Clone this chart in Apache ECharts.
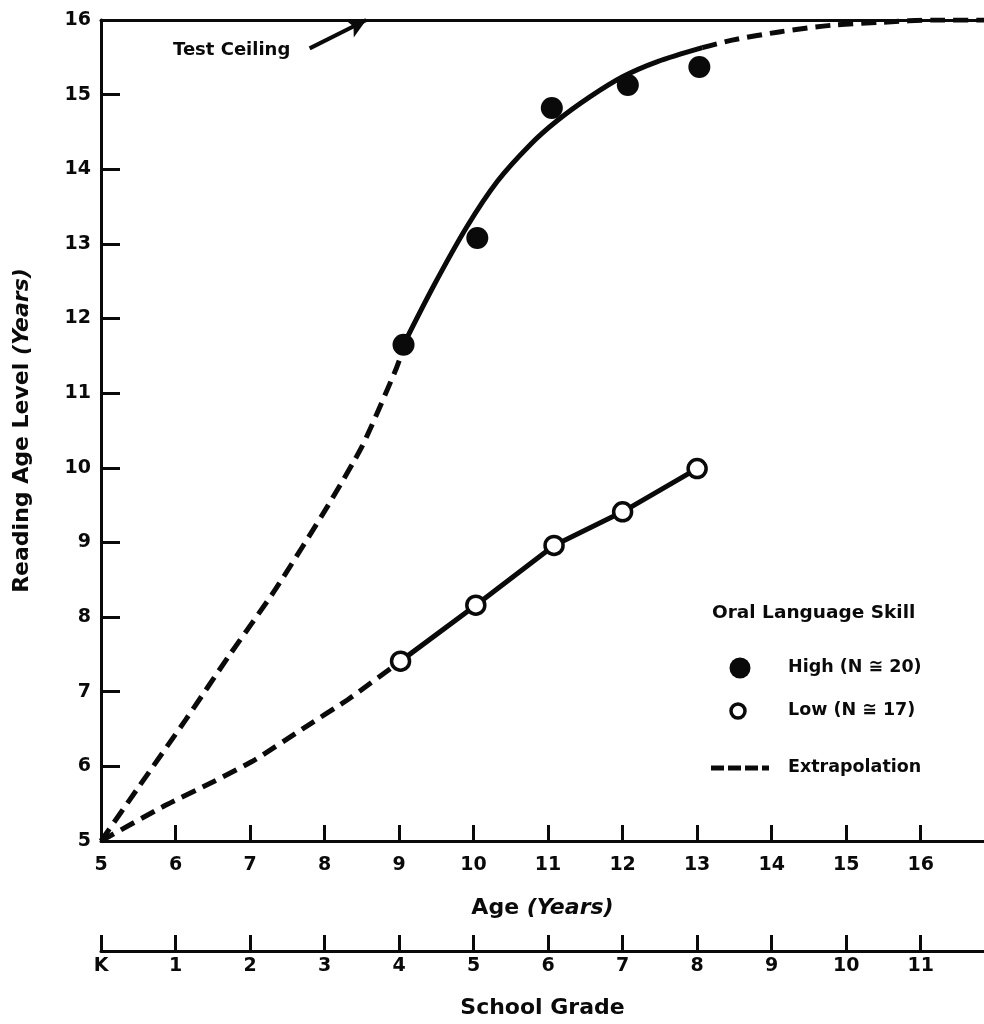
<!DOCTYPE html>
<html>
<head>
<meta charset="utf-8">
<script src="https://cdn.jsdelivr.net/npm/echarts@6/dist/echarts.min.js"></script>
<style>html,body{margin:0;padding:0;background:#fff}#c{width:984px;height:1024px}</style>
</head>
<body>
<div id="c"></div>
<script>
// ---- data ----
const ageTicks = [5, 6, 7, 8, 9, 10, 11, 12, 13, 14, 15, 16];
const gradeLabels = ['K', '1', '2', '3', '4', '5', '6', '7', '8', '9', '10', '11'];
const readTicks = [5, 6, 7, 8, 9, 10, 11, 12, 13, 14, 15, 16];

// observed means
const highAge = [9.06, 10.05, 11.05, 12.07, 13.03];
const highRead = [11.65, 13.08, 14.82, 15.13, 15.37];
const lowAge = [9.02, 10.03, 11.08, 12.0, 13.0];
const lowRead = [7.41, 8.16, 8.96, 9.41, 9.99];

// fitted curve for High group (solid)
const highFitAge = [9.06, 9.46, 9.91, 10.32, 10.76, 11.12, 11.56, 12.0, 12.46, 13.07];
const highFitRead = [11.65, 12.43, 13.23, 13.84, 14.33, 14.65, 14.97, 15.24, 15.44, 15.63];

// extrapolations (dashed)
const highExtrapLowAge = [5, 5.51, 6.14, 6.71, 7.34, 8.05, 8.51, 8.95, 9.06];
const highExtrapLowRead = [5, 5.73, 6.63, 7.47, 8.37, 9.5, 10.3, 11.3, 11.6];
const highExtrapUpAge = [13.07, 13.47, 14.10, 14.81, 15.48, 16.2, 16.85];
const highExtrapUpRead = [15.63, 15.73, 15.84, 15.93, 15.97, 16.0, 16.0];
const lowExtrapAge = [5, 5.83, 6.50, 7.07, 7.70, 8.32, 9.02];
const lowExtrapRead = [5, 5.46, 5.79, 6.09, 6.50, 6.90, 7.41];

// "Test Ceiling" arrow (age, reading level)
const ceilingArrowFrom = [7.8, 15.62];
const ceilingArrowTo = [8.56, 16.0];

const xMin = 5, xMax = 16.85, yMin = 5, yMax = 16;

const zip = (a, b) => a.map((v, i) => [v, b[i]]);
const FONT = 'DejaVu Sans';
const INK = '#0a0a0a';

const chart = echarts.init(document.getElementById('c'), null, { renderer: 'canvas' });

const baseX = {
  type: 'value', min: xMin, max: xMax, interval: 1,
  splitLine: { show: false },
  axisLine: { show: true, onZero: false, lineStyle: { color: INK, width: 3 } }
};

const option = {
  animation: false,
  backgroundColor: '#fff',
  grid: { left: 101, top: 20, width: 885, height: 822 },
  xAxis: [
    Object.assign({}, baseX, {
      position: 'bottom',
      axisTick: { show: true, inside: true, length: 16, customValues: ageTicks, lineStyle: { color: INK, width: 3 } },
      axisLabel: { customValues: ageTicks, margin: 15, color: INK, fontFamily: FONT, fontWeight: 'bold', fontSize: 19 },
      name: '{a|Age }{b|(Years)}',
      nameLocation: 'middle', nameGap: 56,
      nameTextStyle: { rich: {
        a: { fontFamily: FONT, fontWeight: 'bold', fontSize: 22, color: INK },
        b: { fontFamily: FONT, fontWeight: 'bold', fontStyle: 'italic', fontSize: 22, color: INK }
      } }
    }),
    Object.assign({}, baseX, {
      position: 'bottom', offset: 110,
      axisTick: { show: true, inside: true, length: 16, customValues: ageTicks, lineStyle: { color: INK, width: 3 } },
      axisLabel: { customValues: ageTicks, margin: 6, color: INK, fontFamily: FONT, fontWeight: 'bold', fontSize: 19,
        formatter: v => gradeLabels[ageTicks.indexOf(Math.round(v))] },
      name: 'School Grade',
      nameLocation: 'middle', nameGap: 46,
      nameTextStyle: { fontFamily: FONT, fontWeight: 'bold', fontSize: 22, color: INK }
    }),
    Object.assign({}, baseX, {
      position: 'top',
      axisTick: { show: false }, axisLabel: { show: false }
    })
  ],
  yAxis: {
    type: 'value', min: yMin, max: yMax, interval: 1,
    splitLine: { show: false },
    axisLine: { show: true, onZero: false, lineStyle: { color: INK, width: 3 } },
    axisTick: { show: true, inside: true, length: 19, customValues: readTicks, lineStyle: { color: INK, width: 3 } },
    axisLabel: { customValues: readTicks, margin: 10, color: INK, fontFamily: FONT, fontWeight: 'bold', fontSize: 19 },
    name: '{a|Reading Age Level }{b|(Years)}',
    nameLocation: 'middle', nameGap: 68,
    nameTextStyle: { rich: {
      a: { fontFamily: FONT, fontWeight: 'bold', fontSize: 22, color: INK },
      b: { fontFamily: FONT, fontWeight: 'bold', fontStyle: 'italic', fontSize: 22, color: INK }
    } }
  },
  series: [
    {
      name: 'High fit', type: 'line', xAxisIndex: 0, data: zip(highFitAge, highFitRead),
      smooth: 0.3, showSymbol: false, symbol: 'none', z: 3,
      lineStyle: { color: INK, width: 5 },
      markLine: {
        silent: true, symbol: ['none', 'arrow'], symbolSize: [15, 19],
        label: { show: false },
        lineStyle: { color: INK, width: 4, type: 'solid' },
        data: [[{ coord: ceilingArrowFrom }, { coord: ceilingArrowTo }]]
      }
    },
    {
      name: 'High extrap low', type: 'line', xAxisIndex: 0, data: zip(highExtrapLowAge, highExtrapLowRead),
      smooth: 0.2, showSymbol: false, symbol: 'none', z: 3,
      lineStyle: { color: INK, width: 5, type: [15, 8] }
    },
    {
      name: 'High extrap up', type: 'line', xAxisIndex: 0, data: zip(highExtrapUpAge, highExtrapUpRead),
      smooth: 0.3, showSymbol: false, symbol: 'none', z: 3,
      lineStyle: { color: INK, width: 5, type: [15, 8] }
    },
    {
      name: 'Low extrap', type: 'line', xAxisIndex: 0, data: zip(lowExtrapAge, lowExtrapRead),
      smooth: 0.2, showSymbol: false, symbol: 'none', z: 3,
      lineStyle: { color: INK, width: 5, type: [15, 8] }
    },
    {
      name: 'Low', type: 'line', xAxisIndex: 0, data: zip(lowAge, lowRead),
      symbol: 'circle', symbolSize: 18, showSymbol: true, z: 5,
      lineStyle: { color: INK, width: 5 },
      itemStyle: { color: '#fff', borderColor: INK, borderWidth: 3.5, opacity: 1 }
    },
    {
      name: 'High', type: 'scatter', xAxisIndex: 0, data: zip(highAge, highRead),
      symbol: 'circle', symbolSize: 22, z: 6,
      itemStyle: { color: INK, opacity: 1 }
    }
  ],
  graphic: [
    { type: 'text', left: 173, top: 41, z: 10,
      style: { text: 'Test Ceiling', fontFamily: FONT, fontWeight: 'bold', fontSize: 18, fill: INK } },
    { type: 'text', left: 712, top: 604, z: 10,
      style: { text: 'Oral Language Skill', fontFamily: FONT, fontWeight: 'bold', fontSize: 18.5, fill: INK } },
    { type: 'circle', shape: { cx: 740, cy: 668, r: 10.5 }, z: 10, style: { fill: INK } },
    { type: 'text', left: 788, top: 658, z: 10,
      style: { text: 'High (N \u2245 20)', fontFamily: FONT, fontWeight: 'bold', fontSize: 17.5, fill: INK } },
    { type: 'circle', shape: { cx: 738, cy: 711, r: 7 }, z: 10, style: { fill: '#fff', stroke: INK, lineWidth: 3.5 } },
    { type: 'text', left: 788, top: 701, z: 10,
      style: { text: 'Low (N \u2245 17)', fontFamily: FONT, fontWeight: 'bold', fontSize: 17.5, fill: INK } },
    { type: 'line', shape: { x1: 711, y1: 768, x2: 769, y2: 768 }, z: 10,
      style: { stroke: INK, lineWidth: 5, lineDash: [13, 4] } },
    { type: 'text', left: 788, top: 758, z: 10,
      style: { text: 'Extrapolation', fontFamily: FONT, fontWeight: 'bold', fontSize: 17.5, fill: INK } }
  ]
};

chart.setOption(option);
</script>
</body>
</html>
